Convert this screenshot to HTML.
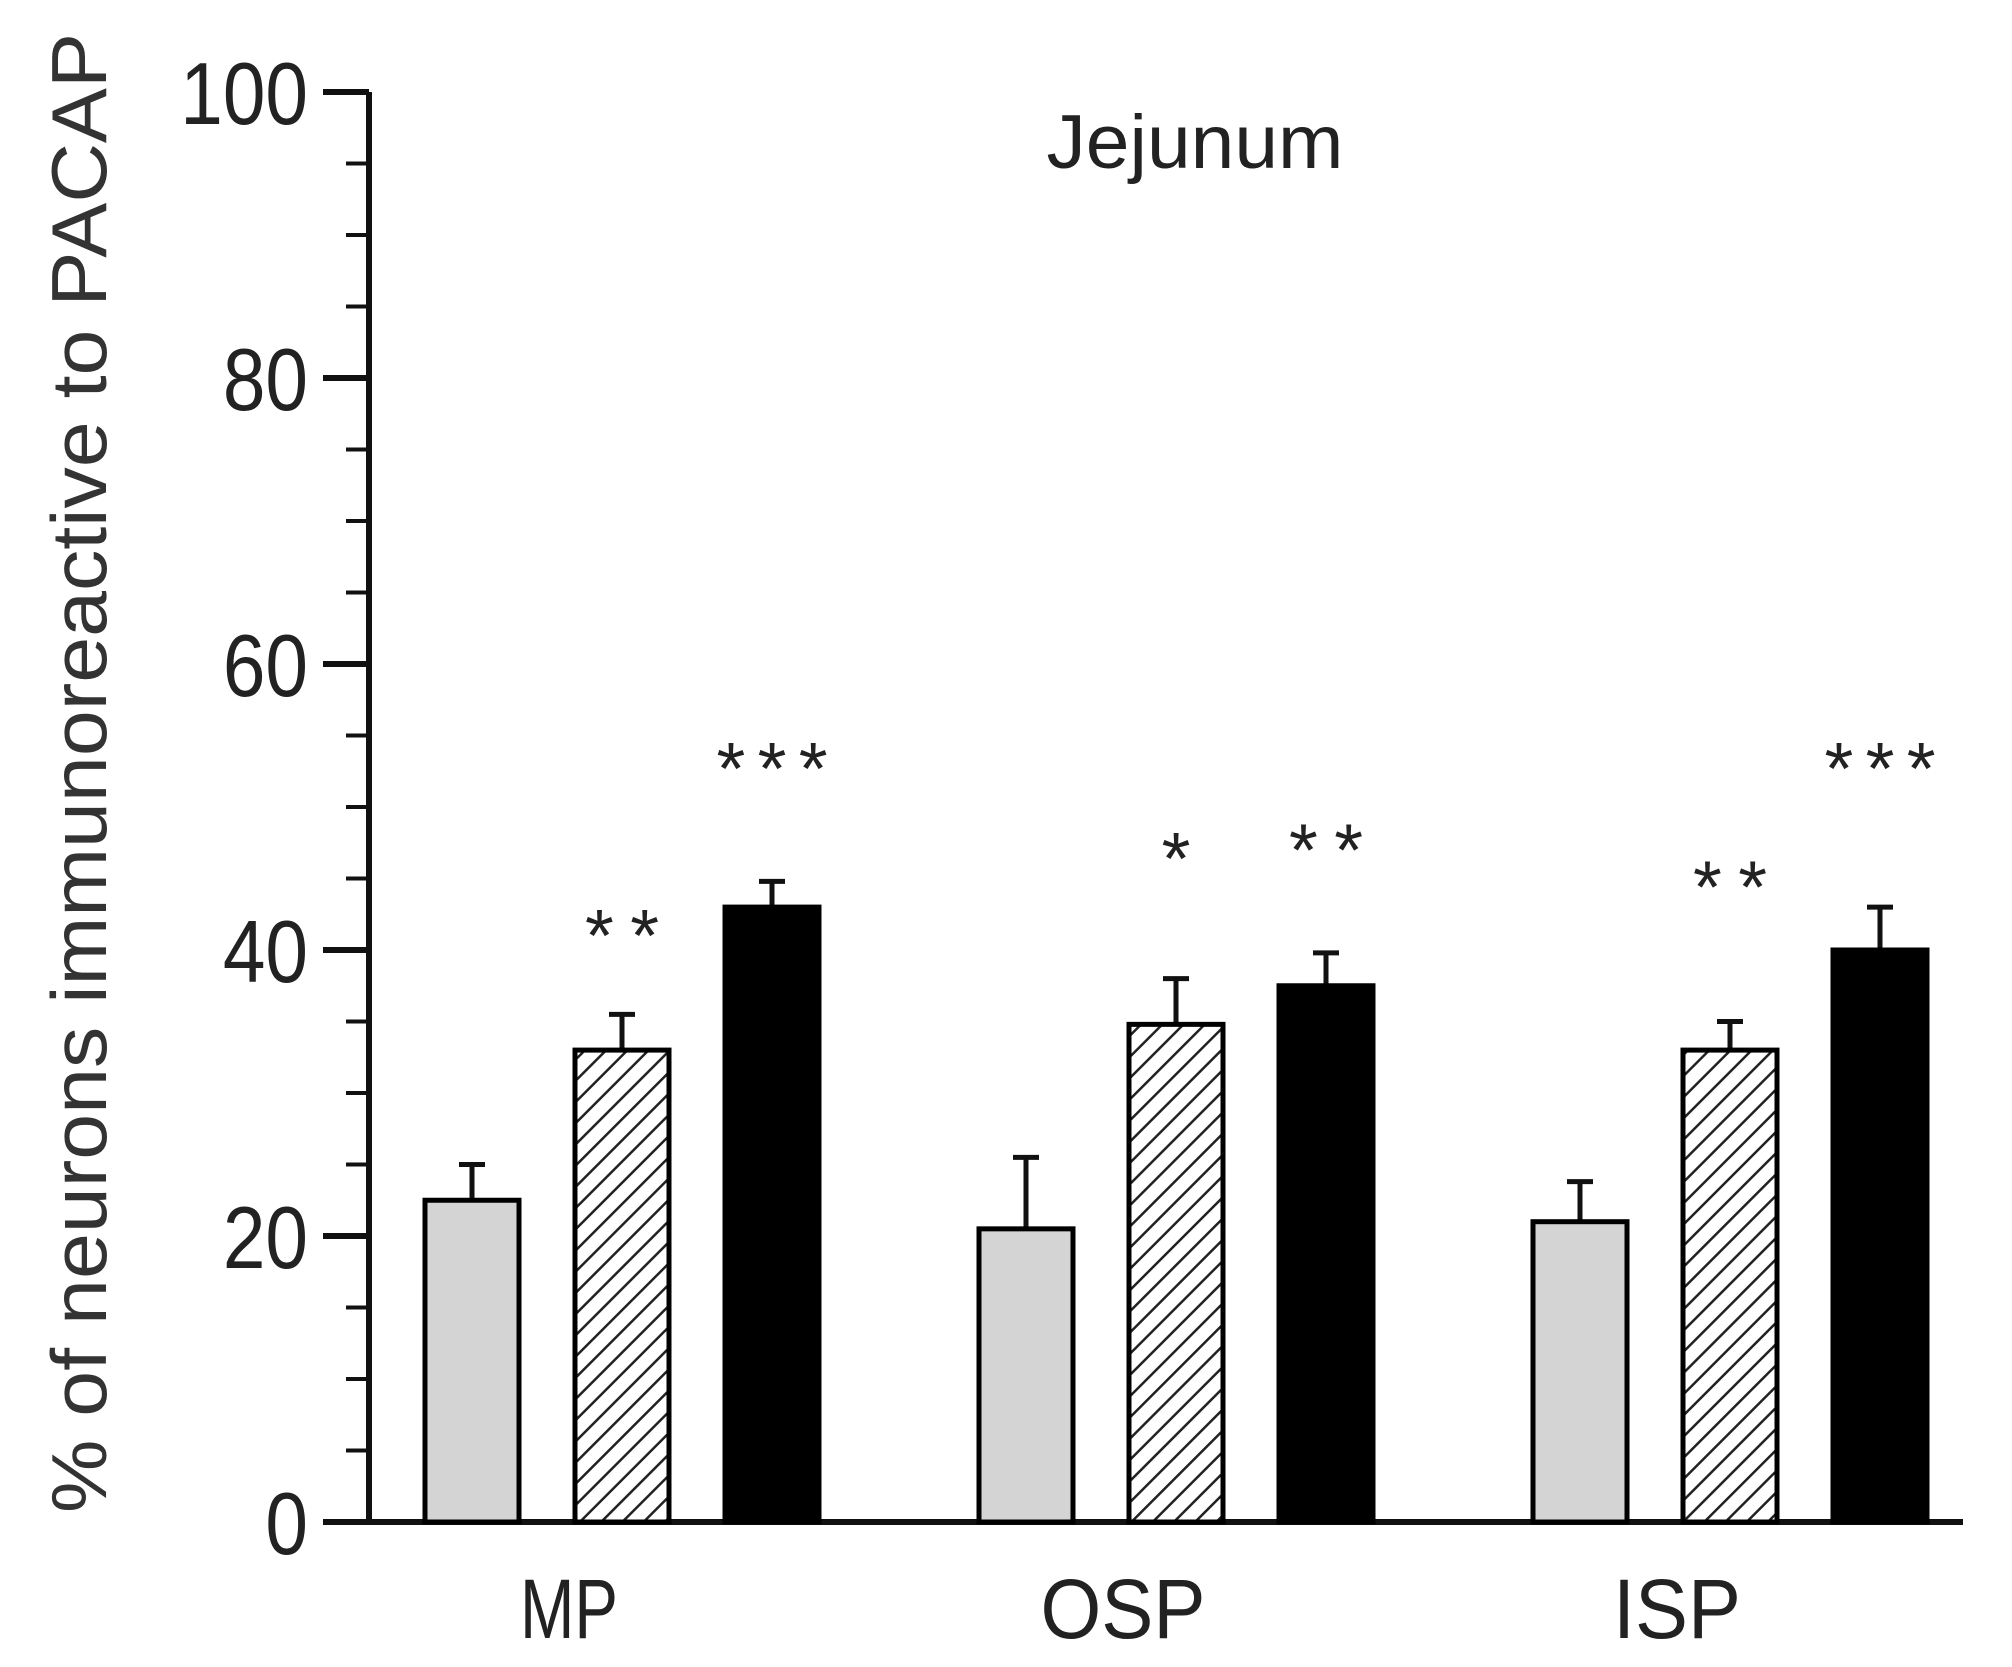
<!DOCTYPE html>
<html><head><meta charset="utf-8"><style>
html,body{margin:0;padding:0;background:#fff;}
svg{display:block;font-family:"Liberation Sans",Arial,sans-serif;}
</style></head><body>
<svg id="chart" width="2012" height="1667" viewBox="0 0 2012 1667" xmlns="http://www.w3.org/2000/svg">
<defs>
<pattern id="hatch" patternUnits="userSpaceOnUse" width="15" height="15" patternTransform="rotate(45)">
<rect width="15" height="15" fill="#fff"/>
<line x1="0" y1="0" x2="0" y2="15" stroke="#222" stroke-width="5"/>
</pattern>
</defs>
<g id="plot"></g>
</svg>
<script>
const categories = ["MP", "OSP", "ISP"];
const seriesNames = ["control", "treatment-a", "treatment-b"];
const controlValues = [22.5, 20.5, 21];
const treatAValues = [33, 34.8, 33];
const treatBValues = [43, 37.5, 40];
const controlErr = [2.5, 5, 2.8];
const treatAErr = [2.5, 3.2, 2];
const treatBErr = [1.8, 2.3, 3];
const treatASig = ["**", "*", "**"];
const treatBSig = ["***", "**", "***"];
const treatASigY = [42.3, 47.7, 45.7];
const treatBSigY = [54, 48.3, 54];
const yTicks = [0, 20, 40, 60, 80, 100];
const yMinorTicks = [5,10,15,25,30,35,45,50,55,65,70,75,85,90,95];
const labelWidths = [98, 165, 128];

const NS = "http://www.w3.org/2000/svg";
const g = document.getElementById("plot");
const X0 = 369, Y0 = 1522, Y100 = 92;
function y(v){ return Y0 - (v/100)*(Y0-Y100); }
function groupCenter(i){ return 622 + 554*i; }
const offsets = [-150, 0, 150];
const BW = 94;
function mk(tag, attrs){ const e=document.createElementNS(NS,tag); for(const k in attrs) e.setAttribute(k, attrs[k]); g.appendChild(e); return e; }

let e = mk("line",{x1:X0,y1:y(100),x2:X0,y2:Y0+3,stroke:"#111","stroke-width":6});


e = mk("line",{x1:323,y1:Y0,x2:1963,y2:Y0,stroke:"#111","stroke-width":6});


yTicks.forEach(t=>{
  const l = mk("line",{x1:323,y1:y(t),x2:X0,y2:y(t),stroke:"#111","stroke-width":6});
  
  
  const tx = mk("text",{x:308/0.87,y:y(t)+32,"text-anchor":"end","font-size":88,fill:"#222",transform:"scale(0.87,1)"});
  tx.textContent = t;
  
  
});
yMinorTicks.forEach(t=>{
  const l = mk("line",{x1:346,y1:y(t),x2:X0,y2:y(t),stroke:"#111","stroke-width":4});
  
  
});

const allVals=[controlValues,treatAValues,treatBValues];
const allErr=[controlErr,treatAErr,treatBErr];
const fills=["#d4d4d4","url(#hatch)","#000"];
categories.forEach((c,i)=>{
  for(let s=0;s<3;s++){
    const cx = groupCenter(i)+offsets[s];
    const v = allVals[s][i], er = allErr[s][i];
    const el = mk("line",{x1:cx,y1:y(v),x2:cx,y2:y(v+er),stroke:"#111","stroke-width":5});
    
    
    const cap = mk("line",{x1:cx-13,y1:y(v+er),x2:cx+13,y2:y(v+er),stroke:"#111","stroke-width":5});
    
    
    const r = mk("rect",{x:cx-BW/2,y:y(v),width:BW,height:Y0-y(v),fill:fills[s],stroke:"#000","stroke-width":5});
    
    
  }
  const lab = mk("text",{x:groupCenter(i)-53,y:1638,"text-anchor":"middle","font-size":84,fill:"#222",textLength:labelWidths[i],lengthAdjust:"spacingAndGlyphs"});
  lab.textContent=c;
  
  
  [[treatASig,treatASigY,0],[treatBSig,treatBSigY,150]].forEach(([sig,sy,off])=>{
    const t = mk("text",{x:groupCenter(i)+off,y:y(sy[i])+44,"text-anchor":"middle","font-size":74,fill:"#222"});
    t.textContent = sig[i];
    t.setAttribute("textLength", sig[i].length*37);
    
    
  });
});

const title = mk("text",{x:1195,y:168,"text-anchor":"middle","font-size":76,fill:"#222",textLength:297,lengthAdjust:"spacingAndGlyphs"});
title.textContent="Jejunum";


const yt = mk("text",{x:0,y:0,"text-anchor":"middle","font-size":78,fill:"#333",transform:"translate(106,773) rotate(-90)",textLength:1480,lengthAdjust:"spacingAndGlyphs"});
yt.textContent="% of neurons immunoreactive to PACAP";


</script>
</body></html>
